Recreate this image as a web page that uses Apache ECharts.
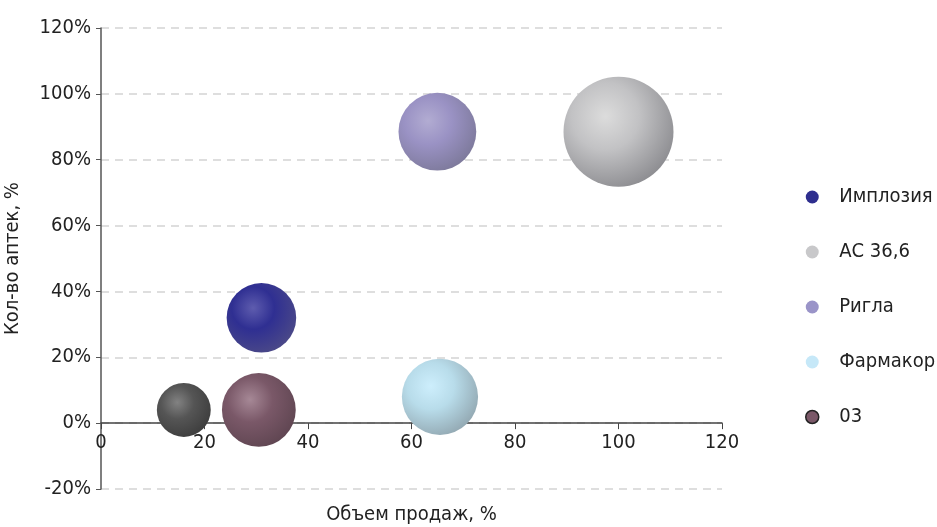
<!DOCTYPE html>
<html lang="ru">
<head>
<meta charset="UTF-8">
<title>Bubble</title>
<style>
  html, body { margin: 0; padding: 0; background: #fff; }
  #chart { width: 937px; height: 527px; }
</style>
</head>
<body>
<div id="chart"></div>
<script src="https://cdn.jsdelivr.net/npm/echarts@6/dist/echarts.min.js"></script>
<script>
// данные
const names = ['Имплозия', 'АС 36,6', 'Ригла', 'Фармакор', '03', ''];
const salesVolume = [31, 100, 65, 65.5, 30.5, 16];      // ось X, %
const pharmacyCount = [32, 88.5, 88.5, 8, 4, 4];       // ось Y, %
const bubbleSize = [40, 100, 50, 48, 45, 24];          // размер пузыря
const yTicks = [-20, 0, 20, 40, 60, 80, 100, 120];
const xTicks = [0, 20, 40, 60, 80, 100, 120];

// цвета: блик, середина, край
const palette = [
    ['#5e5cae', '#2f2f92', '#4a4888'],
    ['#dcdcdc', '#c2c2c4', '#8e8e92'],
    ['#b2acd2', '#9a92c4', '#7e7a9c'],
    ['#cdeefc', '#b8dcea', '#94aab4'],
    ['#a68896', '#7a5868', '#604652'],
    ['#828282', '#555555', '#3e3e3e']
];
const legendColors = ['#2e2e8e', '#c8c8ca', '#9a94c8', '#c6e8f8', '#7a5868'];

const font = '"DejaVu Sans Condensed", "Liberation Sans Narrow", "Roboto", sans-serif';

const myChart = echarts.init(document.getElementById('chart'));

const series = names.map((n, i) => ({
    type: 'scatter',
    name: n,
    data: [[salesVolume[i], pharmacyCount[i], bubbleSize[i]]],
    symbolSize: d => Math.sqrt(d[2]) * 11,
    itemStyle: {
        opacity: 1,
        color: {
            type: 'radial', x: 0.38, y: 0.36, r: 0.68,
            colorStops: [
                { offset: 0, color: palette[i][0] },
                { offset: 0.45, color: palette[i][1] },
                { offset: 1, color: palette[i][2] }
            ]
        }
    },
    z: 3
}));

// ось X стоит на нуле: сдвигаем её вверх от низа сетки (0% против -20%)
const gridTop = 28, gridBottom = 38, plotH = 527 - gridTop - gridBottom;
const zeroShift = plotH * (0 - yTicks[0]) / (yTicks[yTicks.length - 1] - yTicks[0]);

myChart.setOption({
    animation: false,
    grid: { left: 101, right: 215, top: gridTop, bottom: gridBottom, outerBoundsMode: 'none', containLabel: false },
    legend: {
        orient: 'vertical',
        left: 800,
        top: 182,
        itemGap: 35,
        itemWidth: 44,
        itemHeight: 13,
        symbolKeepAspect: true,
        icon: 'circle',
        textStyle: { fontFamily: font, fontSize: 20, color: '#222' },
        data: names.slice(0, 5).map((n, i) => ({
            name: n,
            itemStyle: i === 4
                ? { color: legendColors[i], borderColor: '#222', borderWidth: 1.5 }
                : { color: legendColors[i], borderWidth: 0 }
        }))
    },
    xAxis: {
        type: 'value',
        min: xTicks[0],
        max: xTicks[xTicks.length - 1],
        interval: 20,
        offset: -zeroShift,
        name: 'Объем продаж, %',
        nameLocation: 'middle',
        nameGap: 82,
        nameTextStyle: { fontFamily: font, fontSize: 20, color: '#222' },
        axisLine: { onZero: false, lineStyle: { color: '#444', width: 1.5 } },
        axisTick: { show: true, length: 6, lineStyle: { color: '#444' } },
        axisLabel: { fontFamily: font, fontSize: 20, color: '#222', margin: 10 },
        splitLine: { show: false }
    },
    yAxis: {
        type: 'value',
        min: yTicks[0],
        max: yTicks[yTicks.length - 1],
        interval: 20,
        name: 'Кол-во аптек, %',
        nameLocation: 'middle',
        nameGap: 78,
        nameTextStyle: { fontFamily: font, fontSize: 20, color: '#222' },
        axisLine: { show: true, onZero: false, lineStyle: { color: '#555', width: 1.5 } },
        axisTick: { show: true, length: 5, lineStyle: { color: '#555' } },
        axisLabel: { fontFamily: font, fontSize: 20, color: '#222', margin: 10, formatter: '{value}%' },
        splitLine: { show: true, lineStyle: { color: '#d4d4d4', type: [8, 6], width: 1.5 } }
    },
    series: series
});
</script>
</body>
</html>
